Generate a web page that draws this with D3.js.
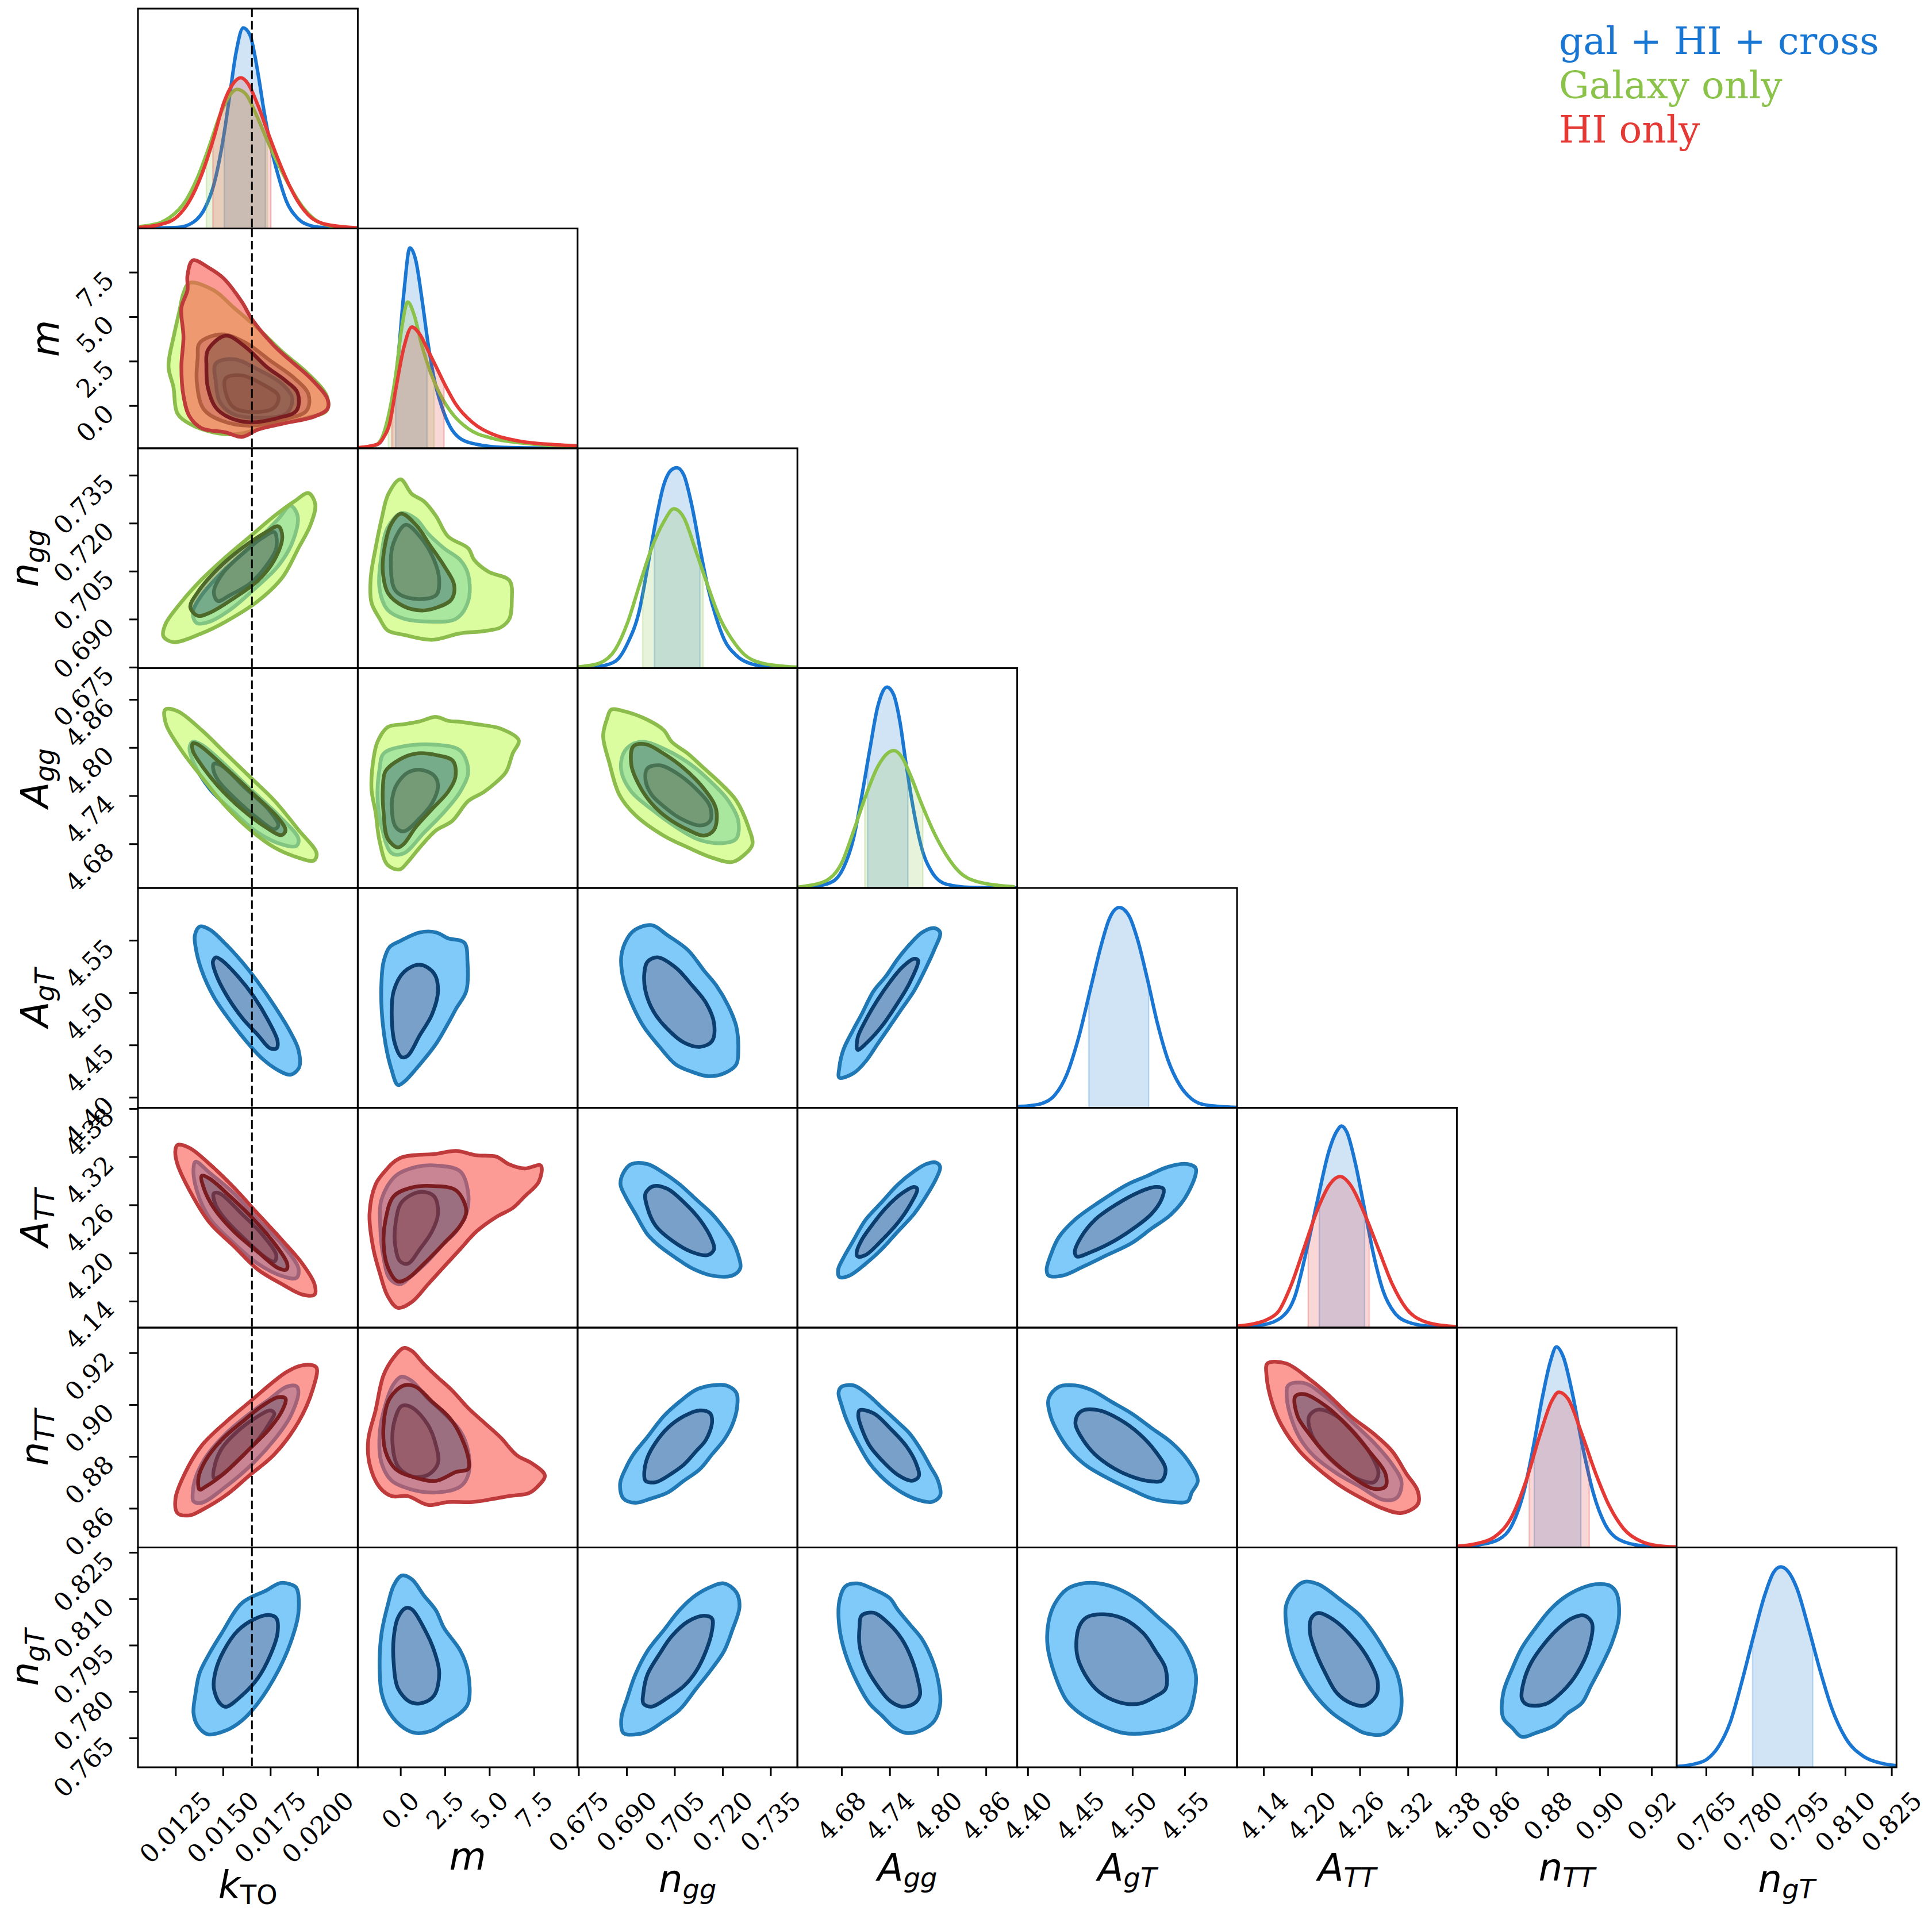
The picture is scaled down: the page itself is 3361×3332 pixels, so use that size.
<!DOCTYPE html>
<html><head><meta charset="utf-8">
<script src="https://cdn.jsdelivr.net/npm/d3@7"></script>
<style>html,body{margin:0;padding:0;background:#fff;}svg{display:block;}</style>
</head><body>
<svg id="chart" width="3361" height="3332"></svg>
<script>
// ================= DATA =================
const lim_k = [0.01052, 0.02211];
const lim_m = [-2.40, 9.96];
const lim_ngg = [0.6747, 0.7434];
const lim_Agg = [4.625, 4.899];
const lim_AgT = [4.390, 4.600];
const lim_ATT = [4.107, 4.381];
const lim_nTT = [0.8449, 0.9297];
const lim_ngT = [0.7555, 0.8266];

const ticks_k = [0.0125, 0.0150, 0.0175, 0.0200];
const ticks_m = [0.0, 2.5, 5.0, 7.5];
const ticks_ngg = [0.675, 0.690, 0.705, 0.720, 0.735];
const ticks_Agg = [4.68, 4.74, 4.80, 4.86];
const ticks_AgT = [4.40, 4.45, 4.50, 4.55];
const ticks_ATT = [4.14, 4.20, 4.26, 4.32, 4.38];
const ticks_nTT = [0.86, 0.88, 0.90, 0.92];
const ticks_ngT = [0.765, 0.780, 0.795, 0.810, 0.825];

const truth_k = 0.01653;

const legendLabels = ["gal + HI + cross", "Galaxy only", "HI only"];

// 1D marginals: [value, relative density]
const k_1d_blue = [[.01052,.001],[.01260,.005],[.01345,.032],[.01409,.109],[.01452,.219],[.01505,.468],[.01537,.674],[.01569,.879],[.01607,1.004],[.01643,.967],[.01685,.776],[.01717,.585],[.01749,.424],[.01792,.263],[.01834,.138],[.01888,.057],[.01941,.021],[.02026,.005],[.02211,.001]];
const k_1d_green = [[.01052,.008],[.01112,.016],[.01175,.031],[.01218,.054],[.01303,.138],[.01366,.255],[.01430,.417],[.01483,.564],[.01526,.652],[.01575,.696],[.01622,.671],[.01675,.571],[.01728,.453],[.01792,.321],[.01856,.204],[.01919,.109],[.01983,.046],[.02068,.013],[.02211,.002]];
const k_1d_red = [[.01052,.004],[.01175,.021],[.01260,.060],[.01324,.138],[.01388,.270],[.01452,.454],[.01505,.630],[.01547,.715],[.01594,.754],[.01632,.725],[.01685,.615],[.01739,.476],[.01792,.343],[.01845,.226],[.01898,.131],[.01962,.057],[.02026,.025],[.02132,.009],[.02211,.003]];
const m_1d_blue = [[-2.40,.0],[-1.63,.010],[-1.17,.027],[-0.83,.086],[-0.49,.218],[-0.15,.438],[0.19,.776],[0.53,1.003],[0.87,.937],[1.21,.746],[1.55,.526],[1.89,.350],[2.34,.204],[2.79,.108],[3.36,.049],[4.27,.020],[5.85,.004],[9.96,.0]];
const m_1d_green = [[-2.40,.002],[-1.40,.016],[-1.06,.049],[-0.72,.145],[-0.27,.365],[0.07,.600],[0.41,.732],[0.75,.673],[1.21,.512],[1.66,.387],[2.23,.270],[2.91,.174],[3.81,.098],[5.17,.050],[6.99,.025],[9.96,.008]];
const m_1d_red = [[-2.40,.003],[-1.29,.020],[-0.95,.054],[-0.61,.123],[-0.27,.292],[0.19,.504],[0.64,.607],[1.09,.570],[1.55,.490],[2.00,.409],[2.57,.306],[3.13,.218],[4.04,.130],[5.17,.071],[6.76,.035],[8.35,.020],[9.96,.012]];
const ngg_1d_blue = [[.6747,.002],[.68143,.009],[.68648,.034],[.69026,.122],[.69404,.291],[.69656,.504],[.69908,.731],[.70160,.915],[.70412,.993],[.70576,1.003],[.70791,.966],[.71043,.812],[.71295,.599],[.71547,.401],[.71799,.254],[.72051,.144],[.72429,.064],[.72933,.020],[.73690,.004],[.7434,.001]];
const ngg_1d_green = [[.6747,.006],[.67639,.009],[.68143,.024],[.68648,.093],[.69026,.225],[.69404,.416],[.69782,.599],[.70160,.731],[.70475,.797],[.70791,.753],[.71169,.585],[.71547,.409],[.71925,.247],[.72303,.142],[.72681,.068],[.73185,.027],[.73941,.009],[.7434,.005]];
const Agg_1d_blue = [[4.625,.001],[4.6496,.009],[4.6698,.034],[4.6823,.100],[4.6949,.247],[4.7049,.452],[4.7150,.687],[4.7251,.907],[4.7366,1.005],[4.7451,.966],[4.7527,.834],[4.7602,.628],[4.7703,.379],[4.7803,.195],[4.7929,.078],[4.8105,.019],[4.8406,.003],[4.899,.0]];
const Agg_1d_green = [[4.625,.004],[4.6346,.009],[4.6597,.034],[4.6798,.122],[4.6949,.283],[4.7100,.459],[4.7250,.606],[4.7376,.675],[4.7452,.687],[4.7552,.655],[4.7653,.570],[4.7803,.416],[4.7954,.276],[4.8105,.166],[4.8256,.085],[4.8507,.030],[4.8959,.006]];
const AgT_1d_blue = [[4.390,.006],[4.4027,.011],[4.4142,.023],[4.4258,.063],[4.4373,.166],[4.4489,.356],[4.4605,.606],[4.4701,.811],[4.4778,.943],[4.4874,1.002],[4.4971,.958],[4.5048,.845],[4.5144,.643],[4.5240,.422],[4.5336,.246],[4.5452,.114],[4.5567,.044],[4.5702,.014],[4.600,.002]];
const ATT_1d_blue = [[4.107,.004],[4.1392,.014],[4.1623,.051],[4.1796,.162],[4.1940,.393],[4.2084,.657],[4.2211,.877],[4.2314,.983],[4.2372,1.009],[4.2441,.976],[4.2545,.822],[4.2660,.591],[4.2775,.360],[4.2891,.184],[4.3035,.074],[4.3236,.023],[4.3524,.005],[4.381,.001]];
const ATT_1d_red = [[4.107,.008],[4.1277,.019],[4.1450,.041],[4.1594,.085],[4.1738,.206],[4.1911,.404],[4.2084,.602],[4.2228,.718],[4.2355,.756],[4.2487,.712],[4.2660,.569],[4.2833,.393],[4.3006,.217],[4.3179,.096],[4.3409,.030],[4.3697,.008],[4.381,.005]];
const nTT_1d_blue = [[.8449,.003],[.85388,.014],[.86101,.040],[.86637,.117],[.87082,.282],[.87439,.502],[.87796,.755],[.88099,.931],[.88331,1.004],[.88599,.953],[.88955,.766],[.89312,.524],[.89758,.271],[.90204,.117],[.90739,.040],[.91631,.009],[.9297,.001]];
const nTT_1d_red = [[.8449,.006],[.85209,.018],[.85923,.051],[.86637,.161],[.87171,.337],[.87706,.568],[.88152,.733],[.88420,.777],[.88777,.744],[.89312,.568],[.89847,.370],[.90382,.205],[.90917,.095],[.91631,.029],[.92523,.005],[.9297,.003]];
const ngT_1d_blue = [[.7555,.004],[.76079,.015],[.76527,.040],[.76901,.103],[.77275,.222],[.77648,.422],[.78022,.647],[.78396,.860],[.78695,.978],[.78919,1.003],[.79143,.982],[.79442,.894],[.79816,.697],[.80190,.484],[.80563,.297],[.81012,.147],[.81610,.053],[.82208,.019],[.8266,.008]];

// 68% intervals
const k_band_blue = [.01507,.01724], k_band_green = [.01413,.01734], k_band_red = [.01447,.01753];
const m_band_blue = [-0.27,1.50], m_band_green = [-0.68,1.89], m_band_red = [-0.49,2.45];
const ngg_band_blue = [.69870,.71295], ngg_band_green = [.69505,.71396];
const Agg_band_blue = [4.7125,4.7627], Agg_band_green = [4.7090,4.7813];
const AgT_band_blue = [4.4585,4.5155];
const ATT_band_blue = [4.2095,4.2660], ATT_band_red = [4.1957,4.2718];
const nTT_band_blue = [.87475,.89276], nTT_band_red = [.87279,.89598];
const ngT_band_blue = [.78007,.79951];

// 2D contours (95% and 68%), [x, y] in parameter units
const k_m_blue95 = [[.01462,2.36],[.01558,2.61],[.01685,2.03],[.01813,1.21],[.01866,0.38],[.01834,-0.44],[.01685,-0.69],[.01547,-0.44],[.01483,0.22],[.01462,1.37]];
const k_m_blue68 = [[.01515,1.54],[.01600,1.70],[.01707,1.21],[.01792,0.55],[.01771,-0.11],[.01664,-0.36],[.01558,-0.11],[.01515,0.71]];
const k_m_green95 = [[.01324,6.90],[.01452,6.48],[.01558,5.50],[.01685,4.34],[.01813,3.02],[.01941,1.87],[.02047,0.55],[.02047,-0.28],[.01941,-0.69],[.01728,-1.18],[.01579,-1.60],[.01452,-1.51],[.01324,-1.02],[.01260,-0.44],[.01239,1.04],[.01213,2.20],[.01243,4.01],[.01271,5.33],[.01292,6.32]];
const k_m_green68 = [[.01377,3.52],[.01494,4.01],[.01622,3.52],[.01749,2.53],[.01877,1.54],[.01951,0.63],[.01941,-0.28],[.01813,-0.80],[.01643,-1.13],[.01494,-0.85],[.01398,-0.19],[.01362,1.37],[.01367,2.69]];
const k_m_red95 = [[.01341,8.17],[.01430,7.72],[.01505,7.14],[.01600,5.83],[.01654,4.84],[.01771,3.35],[.01856,2.53],[.01962,1.54],[.02051,0.38],[.02051,-0.19],[.01983,-0.61],[.01813,-1.02],[.01685,-1.35],[.01600,-1.76],[.01515,-1.51],[.01388,-1.27],[.01324,-0.61],[.01292,0.55],[.01281,2.20],[.01292,3.85],[.01281,5.50],[.01313,6.49],[.01313,7.31]];
const k_m_red68 = [[.01420,3.10],[.01515,3.93],[.01622,3.27],[.01728,2.20],[.01834,1.37],[.01894,0.71],[.01888,-0.28],[.01792,-0.69],[.01643,-0.94],[.01537,-0.69],[.01462,-0.11],[.01420,1.04],[.01413,2.20]];

const k_ngg_blue95 = [[.01856,.72545],[.01894,.72224],[.01866,.71399],[.01792,.70666],[.01664,.69932],[.01537,.69291],[.01430,.68924],[.01362,.68878],[.01341,.69199],[.01388,.69749],[.01515,.70574],[.01664,.71353],[.01792,.72133]];
const k_ngg_blue68 = [[.01771,.7172],[.01781,.71216],[.01728,.70666],[.01643,.70116],[.01537,.69749],[.01473,.69566],[.01452,.69841],[.01494,.70391],[.01600,.71032],[.01707,.71537]];
const k_ngg_green95 = [[.01951,.72939],[.01987,.72591],[.01962,.71949],[.01898,.71216],[.01813,.70299],[.01685,.69566],[.01515,.68924],[.01388,.68557],[.01239,.68282],[.01186,.68465],[.01196,.68832],[.01260,.69382],[.01367,.70116],[.01515,.70941],[.01643,.71583],[.01771,.72224],[.01877,.72683]];
const k_ngg_green68 = [[.01792,.71903],[.01813,.71583],[.01771,.70849],[.01685,.70207],[.01558,.69657],[.01430,.69199],[.01367,.69107],[.01328,.69382],[.01367,.69841],[.01473,.70574],[.01600,.71216],[.01728,.71720]];

const m_ngg_blue95 = [[0.07,.72316],[0.87,.72133],[1.55,.71674],[2.45,.71216],[3.36,.70849],[3.81,.70391],[3.81,.69566],[3.13,.69016],[1.55,.68924],[0.19,.69016],[-0.72,.69291],[-1.17,.69932],[-1.06,.71032],[-0.72,.71858]];
const m_ngg_blue68 = [[0.30,.7195],[1.09,.71583],[1.89,.70849],[2.18,.70207],[2.00,.69749],[0.75,.69639],[-0.27,.69887],[-0.54,.70666],[-0.38,.71399]];
const m_ngg_green95 = [[0.00,.7337],[0.64,.72912],[1.32,.72683],[2.00,.72224],[2.68,.71583],[3.81,.71216],[4.15,.70849],[4.95,.70482],[6.13,.70207],[6.26,.69566],[6.13,.69016],[5.63,.68741],[4.72,.68630],[3.36,.68557],[1.77,.68355],[0.19,.68511],[-0.72,.6865],[-1.17,.69016],[-1.63,.69520],[-1.67,.70299],[-1.40,.71216],[-1.06,.72133],[-0.68,.72912]];
const m_ngg_green68 = [[0.03,.72298],[0.87,.7195],[1.66,.71308],[2.45,.70666],[3.02,.70070],[2.86,.69612],[2.00,.69355],[1.21,.69272],[0.19,.69401],[-0.68,.69795],[-0.99,.70482],[-0.90,.71216],[-0.54,.7195]];

const k_Agg_blue95 = [[.01341,4.8071],[.01388,4.8035],[.01515,4.7779],[.01643,4.7486],[.01792,4.7157],[.01898,4.6865],[.01888,4.6774],[.01813,4.6792],[.01685,4.6938],[.01558,4.7194],[.01430,4.7486],[.01345,4.7815],[.01324,4.7998]];
const k_Agg_blue68 = [[.01452,4.7797],[.01490,4.7779],[.01622,4.7486],[.01739,4.7231],[.01792,4.7029],[.01771,4.6982],[.01685,4.7114],[.01558,4.7377],[.01473,4.7596],[.01448,4.7742]];
const k_Agg_green95 = [[.01196,4.8473],[.01260,4.8455],[.01388,4.8218],[.01515,4.7925],[.01643,4.7633],[.01771,4.7340],[.01898,4.6975],[.01994,4.6682],[.01979,4.6591],[.01898,4.6627],[.01771,4.6755],[.01643,4.6975],[.01515,4.7267],[.01388,4.7633],[.01282,4.7962],[.01200,4.8291]];
const k_Agg_green68 = [[.01341,4.8053],[.01371,4.8035],[.01515,4.7742],[.01664,4.7413],[.01792,4.7121],[.01830,4.6967],[.01809,4.6909],[.01728,4.7004],[.01600,4.7231],[.01473,4.7523],[.01377,4.7815],[.01341,4.7962]];

const m_Agg_blue95 = [[-0.95,4.7925],[0.19,4.8016],[2.00,4.8035],[3.36,4.7962],[3.81,4.7706],[3.36,4.7450],[2.45,4.7194],[1.32,4.6938],[0.19,4.6682],[-0.49,4.6682],[-1.06,4.7011],[-1.29,4.7377],[-1.17,4.7742]];
const m_Agg_blue68 = [[-0.15,4.7560],[0.41,4.7688],[1.09,4.7724],[1.89,4.7651],[2.11,4.7523],[1.77,4.7304],[1.09,4.7121],[0.19,4.6956],[-0.27,4.7011],[-0.49,4.7267],[-0.38,4.7450]];
const m_Agg_green95 = [[-0.72,4.8254],[0.19,4.8291],[1.09,4.8327],[2.00,4.8382],[2.68,4.8334],[3.36,4.8320],[4.27,4.8291],[5.63,4.8236],[6.65,4.8090],[6.31,4.7925],[6.04,4.7742],[5.85,4.7669],[4.72,4.7450],[3.81,4.7333],[2.91,4.7084],[2.00,4.6967],[1.09,4.6755],[0.41,4.6573],[-0.04,4.6481],[-0.72,4.6536],[-1.17,4.6828],[-1.40,4.7194],[-1.63,4.7486],[-1.52,4.7852],[-1.29,4.8071]];
const m_Agg_green68 = [[-0.84,4.7706],[-0.04,4.7852],[0.87,4.7925],[2.00,4.7907],[2.95,4.7834],[3.09,4.7633],[2.68,4.7450],[1.77,4.7231],[0.87,4.7011],[0.19,4.6799],[-0.15,4.6755],[-0.72,4.6865],[-0.95,4.7194],[-0.99,4.7486]];

const ngg_Agg_blue95 = [[.69152,4.8035],[.69530,4.8071],[.70286,4.7962],[.71043,4.7779],[.71673,4.7559],[.72177,4.7340],[.72493,4.7084],[.72429,4.6865],[.72051,4.6810],[.71295,4.6847],[.70539,4.7011],[.69782,4.7231],[.69152,4.7450],[.68837,4.7706],[.68900,4.7925]];
const ngg_Agg_blue68 = [[.69656,4.7742],[.70034,4.7779],[.70539,4.7688],[.71169,4.7486],[.71610,4.7267],[.71610,4.7084],[.71295,4.7029],[.70665,4.7121],[.70160,4.7267],[.69782,4.7413],[.69593,4.7596]];
const ngg_Agg_green95 = [[.68522,4.8473],[.68900,4.8455],[.69656,4.8345],[.70160,4.8218],[.70412,4.8071],[.70917,4.7925],[.71421,4.7742],[.71925,4.7559],[.72429,4.7340],[.72808,4.7011],[.72934,4.6792],[.72682,4.6664],[.72303,4.6573],[.71673,4.6627],[.70917,4.6755],[.70160,4.6902],[.69278,4.7157],[.68774,4.7413],[.68459,4.7815],[.68269,4.8144],[.68395,4.8364]];
const ngg_Agg_green68 = [[.69215,4.8016],[.69593,4.8042],[.70160,4.7925],[.70791,4.7742],[.71421,4.7486],[.71799,4.7231],[.71736,4.6975],[.71421,4.6902],[.70917,4.6975],[.70286,4.7121],[.69782,4.7304],[.69404,4.7523],[.69152,4.7779]];

const k_AgT_blue95 = [[.01377,4.5631],[.01430,4.5603],[.01515,4.5463],[.01600,4.5295],[.01685,4.5099],[.01771,4.4875],[.01856,4.4622],[.01898,4.4454],[.01902,4.4286],[.01856,4.4216],[.01792,4.4258],[.01707,4.4370],[.01622,4.4538],[.01537,4.4734],[.01452,4.4959],[.01388,4.5211],[.01356,4.5435],[.01352,4.5547]];
const k_AgT_blue68 = [[.01462,4.5337],[.01494,4.5309],[.01579,4.5155],[.01664,4.4959],[.01739,4.4734],[.01788,4.4538],[.01783,4.4468],[.01749,4.4468],[.01685,4.4594],[.01600,4.4762],[.01515,4.4987],[.01462,4.5183],[.01447,4.5295]];
const m_AgT_blue95 = [[-0.61,4.5435],[-0.04,4.5491],[1.09,4.5575],[2.00,4.5575],[2.68,4.5519],[3.59,4.5477],[3.77,4.5295],[3.70,4.5015],[3.13,4.4847],[2.68,4.4706],[2.00,4.4510],[1.09,4.4314],[0.19,4.4146],[-0.15,4.4118],[-0.49,4.4258],[-0.84,4.4510],[-1.06,4.4847],[-1.06,4.5127],[-0.95,4.5295]];
const m_AgT_blue68 = [[0.19,4.5197],[1.09,4.5267],[1.89,4.5183],[2.11,4.5015],[1.77,4.4791],[1.09,4.4594],[0.41,4.4398],[0.07,4.4384],[-0.31,4.4510],[-0.49,4.4791],[-0.38,4.5015]];
const ngg_AgT_blue95 = [[.69026,4.5519],[.69278,4.5603],[.69782,4.5645],[.70286,4.5547],[.70917,4.5407],[.71421,4.5211],[.71799,4.5071],[.72177,4.4875],[.72429,4.4678],[.72492,4.4454],[.72429,4.4314],[.72051,4.4230],[.71547,4.4202],[.71043,4.4244],[.70539,4.4314],[.70034,4.4482],[.69530,4.4678],[.69152,4.4903],[.68900,4.5127],[.68837,4.5351]];
const ngg_AgT_blue68 = [[.69656,4.5295],[.69971,4.5337],[.70539,4.5239],[.71043,4.5071],[.71484,4.4903],[.71736,4.4706],[.71673,4.4538],[.71295,4.4482],[.70791,4.4524],[.70286,4.4650],[.69845,4.4819],[.69593,4.5015],[.69555,4.5183]];
const Agg_AgT_blue95 = [[4.6773,4.4188],[4.6949,4.4230],[4.7100,4.4342],[4.7250,4.4510],[4.7401,4.4678],[4.7552,4.4847],[4.7703,4.5015],[4.7854,4.5239],[4.7954,4.5407],[4.8029,4.5575],[4.7954,4.5617],[4.7803,4.5575],[4.7653,4.5463],[4.7502,4.5323],[4.7351,4.5155],[4.7200,4.5015],[4.7049,4.4791],[4.6949,4.4650],[4.6823,4.4454],[4.6773,4.4286]];
const Agg_AgT_blue68 = [[4.7000,4.4454],[4.7100,4.4510],[4.7301,4.4678],[4.7502,4.4903],[4.7653,4.5099],[4.7753,4.5309],[4.7703,4.5323],[4.7552,4.5239],[4.7401,4.5099],[4.7250,4.4931],[4.7100,4.4734],[4.7000,4.4566]];

const k_ATT_blue95 = [[.01356,4.3138],[.01430,4.2999],[.01558,4.2743],[.01685,4.2414],[.01813,4.2103],[.01898,4.1811],[.01888,4.1690],[.01813,4.1712],[.01685,4.1866],[.01558,4.2122],[.01430,4.2432],[.01362,4.2780],[.01345,4.3054]];
const k_ATT_blue68 = [[.01452,4.2743],[.01483,4.2743],[.01600,4.2487],[.01707,4.2231],[.01781,4.1975],[.01771,4.1895],[.01728,4.1939],[.01622,4.2158],[.01515,4.2414],[.01462,4.2597]];
const k_ATT_red95 = [[.01260,4.3346],[.01324,4.3310],[.01430,4.3108],[.01558,4.2816],[.01685,4.2487],[.01813,4.2158],[.01919,4.1866],[.01983,4.1610],[.01983,4.1482],[.01919,4.1482],[.01813,4.1610],[.01685,4.1793],[.01558,4.2085],[.01430,4.2377],[.01324,4.2780],[.01260,4.3108],[.01249,4.3273]];
const k_ATT_red68 = [[.01388,4.2962],[.01430,4.2926],[.01537,4.2707],[.01664,4.2414],[.01771,4.2121],[.01839,4.1866],[.01834,4.1793],[.01792,4.1811],[.01685,4.2012],[.01558,4.2268],[.01452,4.2560],[.01398,4.2816]];
const m_ATT_blue95 = [[-1.06,4.2670],[-0.27,4.2962],[0.87,4.3072],[2.00,4.3090],[3.36,4.3017],[3.81,4.2743],[3.70,4.2487],[3.13,4.2268],[2.45,4.2121],[1.55,4.1902],[0.64,4.1719],[-0.04,4.1610],[-0.61,4.1683],[-0.95,4.1939],[-1.13,4.2304]];
const m_ATT_blue68 = [[-0.27,4.2377],[0.07,4.2633],[1.09,4.2761],[1.89,4.2707],[2.11,4.2487],[1.77,4.2268],[1.09,4.2048],[0.41,4.1866],[-0.04,4.1902],[-0.31,4.2121]];
const m_ATT_red95 = [[-1.74,4.2487],[-1.40,4.2853],[-0.95,4.2999],[-0.04,4.3182],[2.00,4.3236],[3.13,4.3273],[4.27,4.3218],[5.40,4.3200],[6.08,4.3108],[6.99,4.3054],[7.89,4.3090],[7.78,4.2889],[6.99,4.2707],[6.31,4.2560],[5.40,4.2451],[4.27,4.2268],[3.36,4.2048],[2.45,4.1829],[1.55,4.1610],[0.64,4.1390],[-0.15,4.1317],[-0.72,4.1463],[-1.17,4.1756],[-1.52,4.2048]];
const m_ATT_red68 = [[-0.84,4.2414],[-0.38,4.2707],[0.64,4.2816],[1.89,4.2834],[3.13,4.2780],[3.70,4.2524],[3.36,4.2341],[2.45,4.2121],[1.32,4.1866],[0.41,4.1683],[-0.15,4.1646],[-0.72,4.1829],[-0.95,4.2121]];
const ngg_ATT_blue95 = [[.68900,4.2999],[.69152,4.3108],[.69656,4.3108],[.70160,4.2999],[.70665,4.2853],[.71169,4.2670],[.71673,4.2487],[.72051,4.2304],[.72303,4.2158],[.72492,4.1975],[.72555,4.1811],[.72303,4.1719],[.71673,4.1719],[.71043,4.1811],[.70539,4.1939],[.70034,4.2085],[.69656,4.2231],[.69278,4.2487],[.68963,4.2707],[.68811,4.2853]];
const ngg_ATT_blue68 = [[.69593,4.2743],[.69845,4.2834],[.70286,4.2798],[.70791,4.2633],[.71295,4.2414],[.71673,4.2158],[.71736,4.2048],[.71547,4.1975],[.71043,4.2012],[.70412,4.2158],[.69908,4.2341],[.69656,4.2560]];
const Agg_ATT_blue95 = [[4.6773,4.1701],[4.6899,4.1719],[4.7100,4.1866],[4.7301,4.2048],[4.7502,4.2268],[4.7703,4.2487],[4.7854,4.2707],[4.7979,4.2926],[4.8029,4.3072],[4.7979,4.3127],[4.7854,4.3108],[4.7703,4.3017],[4.7502,4.2853],[4.7301,4.2633],[4.7100,4.2414],[4.6949,4.2158],[4.6823,4.1939],[4.6758,4.1793]];
const Agg_ATT_blue68 = [[4.7000,4.1957],[4.7100,4.1975],[4.7301,4.2158],[4.7502,4.2377],[4.7653,4.2597],[4.7743,4.2798],[4.7703,4.2823],[4.7552,4.2743],[4.7351,4.2560],[4.7175,4.2341],[4.7049,4.2158],[4.6989,4.2012]];
const AgT_ATT_blue95 = [[4.4200,4.1719],[4.4335,4.1719],[4.4528,4.1829],[4.4759,4.1975],[4.4990,4.2121],[4.5182,4.2304],[4.5375,4.2487],[4.5529,4.2743],[4.5606,4.3054],[4.5529,4.3108],[4.5336,4.3072],[4.5144,4.2962],[4.4951,4.2853],[4.4681,4.2633],[4.4450,4.2414],[4.4296,4.2194],[4.4220,4.1975],[4.4181,4.1793]];
const AgT_ATT_blue68 = [[4.4470,4.1957],[4.4605,4.2012],[4.4836,4.2158],[4.5028,4.2322],[4.5182,4.2487],[4.5279,4.2670],[4.5298,4.2798],[4.5221,4.2823],[4.5067,4.2761],[4.4836,4.2597],[4.4643,4.2414],[4.4508,4.2194],[4.4450,4.2012]];

const k_nTT_blue95 = [[.01345,.86271],[.01388,.86214],[.01515,.86837],[.01643,.87629],[.01771,.88647],[.01856,.89552],[.01898,.90458],[.01888,.90707],[.01834,.90684],[.01749,.90231],[.01643,.89666],[.01515,.88873],[.01409,.87968],[.01356,.87176],[.01341,.86610]];
const k_nTT_blue68 = [[.01452,.87176],[.01483,.87233],[.01579,.87855],[.01685,.88647],[.01749,.89326],[.01771,.89666],[.01749,.89779],[.01685,.89552],[.01579,.88986],[.01494,.88308],[.01456,.87629]];
const k_nTT_red95 = [[.01260,.85818],[.01324,.85727],[.01388,.85931],[.01515,.86497],[.01643,.87289],[.01771,.88081],[.01898,.89326],[.01973,.90571],[.01994,.91419],[.01962,.91533],[.01898,.91476],[.01834,.91250],[.01771,.90910],[.01643,.90118],[.01515,.89326],[.01388,.88421],[.01303,.87402],[.01250,.86384]];
const k_nTT_red68 = [[.01377,.86723],[.01409,.86837],[.01515,.87402],[.01643,.88308],[.01749,.89100],[.01813,.89779],[.01830,.90231],[.01792,.90288],[.01707,.89949],[.01600,.89326],[.01494,.88647],[.01409,.87855],[.01371,.87176]];
const m_nTT_blue95 = [[0.07,.91080],[0.64,.90910],[1.55,.90231],[2.45,.89665],[3.36,.88987],[3.81,.88194],[3.81,.87289],[3.36,.86836],[2.00,.86610],[0.64,.86723],[-0.49,.87063],[-1.06,.87742],[-1.17,.88873],[-0.84,.90005],[-0.38,.90797]];
const m_nTT_blue68 = [[0.07,.89948],[0.64,.89892],[1.55,.89213],[2.00,.88421],[2.11,.87742],[1.55,.87289],[0.64,.87232],[-0.15,.87629],[-0.45,.88534],[-0.31,.89439]];
const m_nTT_red95 = [[0.19,.92185],[0.64,.92072],[1.32,.91563],[2.00,.91110],[2.91,.90544],[3.81,.89865],[4.72,.89300],[5.63,.88734],[6.53,.88055],[7.44,.87715],[8.12,.87263],[7.67,.86810],[7.22,.86584],[6.08,.86470],[5.17,.86357],[4.04,.86244],[2.68,.86244],[1.55,.86131],[0.41,.86470],[-0.49,.86470],[-1.17,.86810],[-1.74,.87715],[-1.81,.88647],[-1.40,.89779],[-0.95,.91136],[-0.38,.91816]];
const m_nTT_red68 = [[0.19,.90741],[0.87,.90684],[1.77,.90118],[2.68,.89552],[3.25,.88987],[3.81,.87968],[3.81,.87516],[3.13,.87402],[2.00,.87063],[0.87,.87176],[-0.27,.87516],[-0.84,.88194],[-0.95,.89213],[-0.61,.90231]];
const ngg_nTT_blue95 = [[.68900,.86384],[.69278,.86214],[.69782,.86384],[.70286,.86610],[.70791,.87063],[.71295,.87515],[.71673,.88081],[.72051,.88647],[.72303,.89213],[.72455,.89892],[.72429,.90457],[.72114,.90740],[.71673,.90740],[.71169,.90571],[.70665,.90118],[.70160,.89552],[.69656,.88760],[.69215,.88081],[.68963,.87515],[.68799,.86950]];
const ngg_nTT_blue68 = [[.69593,.87063],[.69908,.87006],[.70412,.87346],[.70791,.87685],[.71169,.88194],[.71484,.88647],[.71673,.89326],[.71610,.89666],[.71295,.89779],[.70791,.89552],[.70286,.89100],[.69908,.88534],[.69656,.87968],[.69555,.87402]];
const Agg_nTT_blue95 = [[4.6798,.90684],[4.6949,.90741],[4.7100,.90458],[4.7301,.89892],[4.7502,.89326],[4.7653,.88873],[4.7803,.88194],[4.7904,.87629],[4.8004,.87063],[4.8030,.86497],[4.7929,.86248],[4.7753,.86327],[4.7552,.86610],[4.7351,.87063],[4.7150,.87742],[4.7000,.88534],[4.6874,.89326],[4.6798,.90005],[4.6763,.90458]];
const Agg_nTT_blue68 = [[4.7024,.89779],[4.7200,.89665],[4.7401,.89100],[4.7602,.88421],[4.7728,.87742],[4.7763,.87233],[4.7678,.87063],[4.7502,.87289],[4.7301,.87855],[4.7150,.88421],[4.7049,.89100],[4.7009,.89553]];
const AgT_nTT_blue95 = [[4.4200,.90231],[4.4296,.90684],[4.4451,.90741],[4.4605,.90571],[4.4797,.90118],[4.4990,.89666],[4.5182,.89100],[4.5375,.88534],[4.5529,.87855],[4.5625,.87063],[4.5567,.86610],[4.5529,.86271],[4.5375,.86248],[4.5182,.86384],[4.4990,.86723],[4.4759,.87176],[4.4566,.87629],[4.4412,.88194],[4.4296,.88873],[4.4219,.89552]];
const AgT_nTT_blue68 = [[4.4470,.89552],[4.4528,.89779],[4.4682,.89779],[4.4874,.89439],[4.5067,.88873],[4.5221,.88194],[4.5317,.87515],[4.5279,.87063],[4.5182,.87040],[4.5028,.87176],[4.4836,.87515],[4.4643,.88081],[4.4528,.88647],[4.4458,.89213]];
const ATT_nTT_blue95 = [[4.1709,.90742],[4.1911,.90826],[4.2199,.90232],[4.2487,.89383],[4.2775,.88535],[4.3006,.87686],[4.3121,.87007],[4.3063,.86413],[4.2891,.86328],[4.2603,.86837],[4.2314,.87346],[4.2026,.88025],[4.1853,.88704],[4.1738,.89553],[4.1692,.90232]];
const ATT_nTT_blue68 = [[4.1969,.89553],[4.2084,.89808],[4.2314,.89553],[4.2545,.88874],[4.2747,.88025],[4.2833,.87346],[4.2775,.87007],[4.2603,.87092],[4.2372,.87516],[4.2141,.88195],[4.1997,.88874]];
const ATT_nTT_red95 = [[4.1450,.91590],[4.1681,.91590],[4.1969,.90996],[4.2199,.90402],[4.2487,.89553],[4.2775,.88874],[4.3006,.88195],[4.3179,.87346],[4.3323,.86668],[4.3323,.86158],[4.3121,.85819],[4.2891,.85989],[4.2660,.86328],[4.2372,.86837],[4.2084,.87516],[4.1853,.88195],[4.1623,.89214],[4.1508,.90062],[4.1439,.91081]];
const ATT_nTT_red68 = [[4.1796,.90317],[4.1911,.90402],[4.2199,.89893],[4.2487,.89044],[4.2718,.88195],[4.2919,.87346],[4.2919,.86837],[4.2775,.86752],[4.2487,.87262],[4.2199,.88025],[4.1969,.88874],[4.1825,.89553]];

const k_ngT_blue95 = [[.01345,.77305],[.01366,.76900],[.01420,.76618],[.01515,.76739],[.01600,.77062],[.01685,.77628],[.01792,.78679],[.01856,.79569],[.01898,.80539],[.01888,.81348],[.01856,.81469],[.01802,.81509],[.01728,.81267],[.01600,.80862],[.01494,.79892],[.01430,.79245],[.01377,.78598],[.01356,.77951]];
const k_ngT_blue68 = [[.01452,.78113],[.01483,.77628],[.01515,.77507],[.01600,.77871],[.01685,.78437],[.01749,.79164],[.01788,.79892],[.01781,.80377],[.01739,.80474],[.01664,.80337],[.01579,.79973],[.01505,.79326],[.01462,.78679]];
const m_ngT_blue95 = [[0.07,.81752],[0.64,.81631],[1.32,.81105],[2.00,.80620],[2.45,.80054],[3.36,.79326],[3.81,.78598],[3.81,.77628],[3.36,.77305],[2.45,.76981],[1.77,.76739],[0.87,.76658],[0.19,.76820],[-0.61,.77305],[-1.06,.77951],[-1.17,.79003],[-1.06,.79892],[-0.72,.80782],[-0.38,.81428]];
const m_ngT_blue68 = [[0.30,.80701],[0.64,.80660],[1.32,.80054],[1.89,.79326],[2.18,.78598],[1.89,.77871],[1.21,.77628],[0.53,.77668],[-0.15,.78113],[-0.38,.78922],[-0.38,.79730],[-0.15,.80377]];
const ngg_ngT_blue95 = [[.68900,.76660],[.69278,.76612],[.69656,.76707],[.70160,.77039],[.70665,.77418],[.71169,.78082],[.71673,.78746],[.72051,.79315],[.72303,.79979],[.72530,.80738],[.72429,.81213],[.72051,.81497],[.71673,.81402],[.71169,.81118],[.70665,.80643],[.70160,.79979],[.69656,.79315],[.69278,.78557],[.69026,.77798],[.68837,.77134]];
const ngg_ngT_blue68 = [[.69530,.77608],[.69782,.77513],[.70286,.77798],[.70791,.78177],[.71169,.78651],[.71484,.79315],[.71673,.79979],[.71673,.80359],[.71421,.80453],[.70917,.80264],[.70412,.79789],[.70034,.79220],[.69656,.78557],[.69530,.77988]];
const Agg_ngT_blue95 = [[4.6848,.81402],[4.7000,.81497],[4.7200,.81307],[4.7401,.81023],[4.7502,.80643],[4.7653,.80169],[4.7803,.79695],[4.7929,.79031],[4.8004,.78367],[4.8030,.77608],[4.7954,.77039],[4.7803,.76755],[4.7602,.76660],[4.7451,.76850],[4.7301,.77229],[4.7150,.77608],[4.7000,.78272],[4.6848,.79221],[4.6773,.80074],[4.6773,.80928]];
const Agg_ngT_blue68 = [[4.7049,.80453],[4.7200,.80548],[4.7401,.80169],[4.7552,.79695],[4.7678,.79031],[4.7753,.78367],[4.7778,.77893],[4.7703,.77608],[4.7552,.77513],[4.7401,.77703],[4.7250,.78177],[4.7100,.78841],[4.7024,.79505],[4.7024,.80074]];
const AgT_ngT_blue95 = [[4.4258,.80833],[4.4373,.81307],[4.4527,.81497],[4.4682,.81497],[4.4874,.81307],[4.5067,.80928],[4.5259,.80359],[4.5413,.79884],[4.5529,.79315],[4.5606,.78556],[4.5587,.77798],[4.5529,.77229],[4.5375,.76849],[4.5144,.76660],[4.4913,.76660],[4.4682,.76944],[4.4489,.77324],[4.4373,.77703],[4.4258,.78556],[4.4189,.79505],[4.4200,.80264]];
const AgT_ngT_blue68 = [[4.4489,.80074],[4.4566,.80406],[4.4720,.80501],[4.4913,.80359],[4.5105,.79884],[4.5221,.79315],[4.5317,.78746],[4.5317,.78082],[4.5221,.77845],[4.5067,.77608],[4.4874,.77655],[4.4682,.77988],[4.4547,.78556],[4.4470,.79220]];
const ATT_ngT_blue95 = [[4.1681,.80782],[4.1796,.81348],[4.1911,.81550],[4.2084,.81469],[4.2372,.80943],[4.2603,.80458],[4.2775,.79892],[4.2948,.79164],[4.3063,.78598],[4.3121,.77790],[4.3092,.77143],[4.3006,.76819],[4.2891,.76617],[4.2660,.76658],[4.2487,.76900],[4.2257,.77305],[4.2026,.77951],[4.1853,.78679],[4.1738,.79407],[4.1681,.80216]];
const ATT_ngT_blue68 = [[4.1997,.80377],[4.2084,.80539],[4.2286,.80297],[4.2545,.79650],[4.2718,.79003],[4.2821,.78356],[4.2804,.77871],[4.2660,.77547],[4.2487,.77628],[4.2314,.77952],[4.2170,.78598],[4.2055,.79245],[4.1980,.79892]];
const nTT_ngT_blue95 = [[.86280,.77143],[.86637,.76819],[.86993,.76536],[.87528,.76658],[.88242,.76900],[.88777,.77305],[.89312,.77628],[.89669,.78194],[.90025,.78760],[.90471,.79569],[.90739,.80377],[.90650,.81186],[.90382,.81428],[.89847,.81469],[.89312,.81348],[.88599,.81024],[.88063,.80620],[.87528,.80054],[.86993,.79407],[.86637,.78760],[.86280,.77951]];
const nTT_ngT_blue68 = [[.86993,.77790],[.87171,.77588],[.87885,.77588],[.88598,.78032],[.89134,.78598],[.89580,.79407],[.89704,.80216],[.89401,.80458],[.88955,.80377],[.88420,.80054],[.87885,.79569],[.87350,.78922],[.87082,.78356]];

// ================= CONFIG (styling / assembly) =================
const W = 3361, H = 3332;
const X0 = 240, Y0 = 15, CW = 382.4, CH = 382.5;
const TICK_FONT = "DejaVu Serif", TICK_SIZE = 44;
const LABEL_SIZE = 66;

const styles = {
  blue:  {curve:"#1976d2", f95:"#80cafa", f68:"#78a0c8", fo:1.0, l95:"#1f77b4", l68:"#0b3d6e"},
  green: {curve:"#8bc34a", f95:"#c5fa61", f68:"#71983f", fo:0.6, l95:"#8cbd4c", l68:"#4d6a2a"},
  red:   {curve:"#e53935", f95:"#fa5750", f68:"#ad322f", fo:0.6, l95:"#bf3a3a", l68:"#7b1c20"}
};

const params = [
  {id:"k",   lim:lim_k,   ticks:ticks_k,   fmt:".4f", base:"k", sub:"TO", subItalic:false},
  {id:"m",   lim:lim_m,   ticks:ticks_m,   fmt:".1f", base:"m", sub:"",   subItalic:true},
  {id:"ngg", lim:lim_ngg, ticks:ticks_ngg, fmt:".3f", base:"n", sub:"gg", subItalic:true},
  {id:"Agg", lim:lim_Agg, ticks:ticks_Agg, fmt:".2f", base:"A", sub:"gg", subItalic:true},
  {id:"AgT", lim:lim_AgT, ticks:ticks_AgT, fmt:".2f", base:"A", sub:"gT", subItalic:true},
  {id:"ATT", lim:lim_ATT, ticks:ticks_ATT, fmt:".2f", base:"A", sub:"TT", subItalic:true},
  {id:"nTT", lim:lim_nTT, ticks:ticks_nTT, fmt:".2f", base:"n", sub:"TT", subItalic:true},
  {id:"ngT", lim:lim_ngT, ticks:ticks_ngT, fmt:".3f", base:"n", sub:"gT", subItalic:true}
];

const marginals = {
  k:   [["blue",k_1d_blue,k_band_blue],["green",k_1d_green,k_band_green],["red",k_1d_red,k_band_red]],
  m:   [["blue",m_1d_blue,m_band_blue],["green",m_1d_green,m_band_green],["red",m_1d_red,m_band_red]],
  ngg: [["blue",ngg_1d_blue,ngg_band_blue],["green",ngg_1d_green,ngg_band_green]],
  Agg: [["blue",Agg_1d_blue,Agg_band_blue],["green",Agg_1d_green,Agg_band_green]],
  AgT: [["blue",AgT_1d_blue,AgT_band_blue]],
  ATT: [["blue",ATT_1d_blue,ATT_band_blue],["red",ATT_1d_red,ATT_band_red]],
  nTT: [["blue",nTT_1d_blue,nTT_band_blue],["red",nTT_1d_red,nTT_band_red]],
  ngT: [["blue",ngT_1d_blue,ngT_band_blue]]
};

const contours = [
  ["k","m",[["blue",k_m_blue95,k_m_blue68],["green",k_m_green95,k_m_green68],["red",k_m_red95,k_m_red68]]],
  ["k","ngg",[["blue",k_ngg_blue95,k_ngg_blue68],["green",k_ngg_green95,k_ngg_green68]]],
  ["m","ngg",[["blue",m_ngg_blue95,m_ngg_blue68],["green",m_ngg_green95,m_ngg_green68]]],
  ["k","Agg",[["blue",k_Agg_blue95,k_Agg_blue68],["green",k_Agg_green95,k_Agg_green68]]],
  ["m","Agg",[["blue",m_Agg_blue95,m_Agg_blue68],["green",m_Agg_green95,m_Agg_green68]]],
  ["ngg","Agg",[["blue",ngg_Agg_blue95,ngg_Agg_blue68],["green",ngg_Agg_green95,ngg_Agg_green68]]],
  ["k","AgT",[["blue",k_AgT_blue95,k_AgT_blue68]]],
  ["m","AgT",[["blue",m_AgT_blue95,m_AgT_blue68]]],
  ["ngg","AgT",[["blue",ngg_AgT_blue95,ngg_AgT_blue68]]],
  ["Agg","AgT",[["blue",Agg_AgT_blue95,Agg_AgT_blue68]]],
  ["k","ATT",[["blue",k_ATT_blue95,k_ATT_blue68],["red",k_ATT_red95,k_ATT_red68]]],
  ["m","ATT",[["blue",m_ATT_blue95,m_ATT_blue68],["red",m_ATT_red95,m_ATT_red68]]],
  ["ngg","ATT",[["blue",ngg_ATT_blue95,ngg_ATT_blue68]]],
  ["Agg","ATT",[["blue",Agg_ATT_blue95,Agg_ATT_blue68]]],
  ["AgT","ATT",[["blue",AgT_ATT_blue95,AgT_ATT_blue68]]],
  ["k","nTT",[["blue",k_nTT_blue95,k_nTT_blue68],["red",k_nTT_red95,k_nTT_red68]]],
  ["m","nTT",[["blue",m_nTT_blue95,m_nTT_blue68],["red",m_nTT_red95,m_nTT_red68]]],
  ["ngg","nTT",[["blue",ngg_nTT_blue95,ngg_nTT_blue68]]],
  ["Agg","nTT",[["blue",Agg_nTT_blue95,Agg_nTT_blue68]]],
  ["AgT","nTT",[["blue",AgT_nTT_blue95,AgT_nTT_blue68]]],
  ["ATT","nTT",[["blue",ATT_nTT_blue95,ATT_nTT_blue68],["red",ATT_nTT_red95,ATT_nTT_red68]]],
  ["k","ngT",[["blue",k_ngT_blue95,k_ngT_blue68]]],
  ["m","ngT",[["blue",m_ngT_blue95,m_ngT_blue68]]],
  ["ngg","ngT",[["blue",ngg_ngT_blue95,ngg_ngT_blue68]]],
  ["Agg","ngT",[["blue",Agg_ngT_blue95,Agg_ngT_blue68]]],
  ["AgT","ngT",[["blue",AgT_ngT_blue95,AgT_ngT_blue68]]],
  ["ATT","ngT",[["blue",ATT_ngT_blue95,ATT_ngT_blue68]]],
  ["nTT","ngT",[["blue",nTT_ngT_blue95,nTT_ngT_blue68]]]
];

// ================= DRAW =================
const svg = d3.select("#chart");
svg.append("rect").attr("width", W).attr("height", H).attr("fill", "#fff");
const defs = svg.append("defs");
const N = params.length;
const idx = {};
params.forEach((p, i) => {
  idx[p.id] = i;
  const L = X0 + i * CW, T = Y0 + i * CH;
  p.L = L; p.T = T;
  p.x = d3.scaleLinear().domain(p.lim).range([L, L + CW]);
  p.y = d3.scaleLinear().domain(p.lim).range([T + CH, T]);
});
const colL = c => X0 + c * CW;
const rowT = r => Y0 + r * CH;

let clipN = 0;
function panelClip(r, c) {
  const id = "pc" + (clipN++);
  defs.append("clipPath").attr("id", id).append("rect")
    .attr("x", colL(c)).attr("y", rowT(r)).attr("width", CW).attr("height", CH);
  return "url(#" + id + ")";
}

const contentLayer = svg.append("g");
const overlayLayer = svg.append("g");
const frameLayer = svg.append("g");

// --- 2D panels (filled bands like contourf: 95% ring + 68% core) ---
contours.forEach(([xid, yid, sets]) => {
  const c = idx[xid], r = idx[yid];
  const xs = params[c].x, ys = params[r].y;
  const g = contentLayer.append("g").attr("clip-path", panelClip(r, c));
  const line = d3.line().x(d => xs(d[0])).y(d => ys(d[1])).curve(d3.curveCatmullRomClosed.alpha(0.5));
  sets.forEach(([name, c95, c68]) => {
    const s = styles[name];
    g.append("path").attr("d", line(c95) + line(c68)).attr("fill-rule", "evenodd")
      .attr("fill", s.f95).attr("fill-opacity", s.fo).attr("stroke", "none");
    g.append("path").attr("d", line(c68)).attr("fill", s.f68).attr("fill-opacity", s.fo).attr("stroke", "none");
    g.append("path").attr("d", line(c95)).attr("fill", "none").attr("stroke", s.l95).attr("stroke-width", 6.5).attr("stroke-linejoin", "round");
    g.append("path").attr("d", line(c68)).attr("fill", "none").attr("stroke", s.l68).attr("stroke-width", 6.5).attr("stroke-linejoin", "round");
  });
});

// --- diagonal panels ---
params.forEach((p, i) => {
  const xs = p.x;
  const B = p.T + CH;
  const yd = d3.scaleLinear().domain([0, 1.1]).range([B, p.T]);
  const g = contentLayer.append("g").attr("clip-path", panelClip(i, i));
  const area = d3.area().x(d => xs(d[0])).y0(yd(0)).y1(d => yd(d[1])).curve(d3.curveMonotoneX);
  const ln = d3.line().x(d => xs(d[0])).y(d => yd(d[1])).curve(d3.curveMonotoneX);
  marginals[p.id].forEach(([name, pts, band]) => {
    const s = styles[name];
    const cid = "uc" + (clipN++);
    defs.append("clipPath").attr("id", cid).append("path").attr("d", area(pts));
    g.append("rect").attr("clip-path", "url(#" + cid + ")")
      .attr("x", xs(band[0])).attr("y", p.T - 10).attr("width", xs(band[1]) - xs(band[0])).attr("height", CH + 20)
      .attr("fill", s.curve).attr("fill-opacity", 0.2)
      .attr("stroke", s.curve).attr("stroke-opacity", 0.25).attr("stroke-width", 2.5);
    g.append("path").attr("d", ln(pts)).attr("fill", "none").attr("stroke", s.curve).attr("stroke-width", 6).attr("stroke-linejoin", "round");
  });
});

// --- truth line in k column ---
for (let r = 0; r < N; r++) {
  const xv = params[0].x(truth_k);
  overlayLayer.append("line").attr("x1", xv).attr("x2", xv).attr("y1", rowT(r)).attr("y2", rowT(r) + CH)
    .attr("stroke", "#000").attr("stroke-width", 3).attr("stroke-dasharray", "15,6.5");
}

// --- frames ---
for (let r = 0; r < N; r++) for (let c = 0; c <= r; c++) {
  frameLayer.append("rect").attr("x", colL(c)).attr("y", rowT(r)).attr("width", CW).attr("height", CH)
    .attr("fill", "none").attr("stroke", "#000").attr("stroke-width", 3);
}

// --- math-style label ---
function mathLabel(sel, p) {
  const t = sel.append("text").attr("font-family", "DejaVu Sans").attr("font-size", LABEL_SIZE).attr("fill", "#000");
  t.append("tspan").attr("font-style", "italic").text(p.base);
  if (p.sub) t.append("tspan").attr("font-style", p.subItalic ? "italic" : "normal")
    .attr("font-size", LABEL_SIZE * 0.7).attr("dy", 11).text(p.sub);
  return t;
}

function styleAxis(g) {
  g.select(".domain").remove();
  g.selectAll(".tick line").attr("stroke", "#000").attr("stroke-width", 3);
  g.selectAll(".tick text").attr("font-family", TICK_FONT).attr("font-size", TICK_SIZE).attr("fill", "#000");
  g.attr("font-family", null).attr("font-size", null);
}

// --- bottom axes ---
const axLayer = svg.append("g");
const gridBottom = rowT(N - 1) + CH;
params.forEach((p, c) => {
  const g = axLayer.append("g").attr("transform", `translate(0,${gridBottom})`);
  g.call(d3.axisBottom(p.x).tickValues(p.ticks).tickSize(15).tickFormat(d3.format(p.fmt)));
  styleAxis(g);
  g.selectAll(".tick text").each(function (d) {
    const el = d3.select(this);
    el.attr("x", null).attr("y", null).attr("dy", null).attr("text-anchor", "end").attr("transform", "rotate(-45)");
    const r0 = this.getBoundingClientRect();
    const dx = p.x(d) - (r0.left + r0.right) / 2;
    const dy = (gridBottom + 32) - r0.top;
    el.attr("transform", `translate(${dx},${dy}) rotate(-45)`);
  });
  let maxB = -Infinity;
  g.selectAll(".tick text").each(function () { maxB = Math.max(maxB, this.getBoundingClientRect().bottom); });
  mathLabel(axLayer, p).attr("text-anchor", "middle").attr("x", colL(c) + CW / 2).attr("y", Math.min(maxB + 60, H - 30));
});

// --- left axes ---
for (let r = 1; r < N; r++) {
  const p = params[r];
  const g = axLayer.append("g").attr("transform", `translate(${colL(0)},0)`);
  g.call(d3.axisLeft(p.y).tickValues(p.ticks).tickSize(15).tickFormat(d3.format(p.fmt)));
  styleAxis(g);
  g.selectAll(".tick text").each(function (d) {
    const el = d3.select(this);
    el.attr("x", null).attr("y", null).attr("dy", null).attr("text-anchor", "end").attr("transform", "rotate(-45)");
    const r0 = this.getBoundingClientRect();
    const tickY = p.y(d);
    const dx = (colL(0) - 32) - r0.right;
    const dy = (tickY - 12) - r0.top;
    el.attr("transform", `translate(${dx},${dy}) rotate(-45)`);
  });
  let minL = Infinity;
  g.selectAll(".tick text").each(function () { minL = Math.min(minL, this.getBoundingClientRect().left); });
  const yc = rowT(r) + CH / 2;
  mathLabel(axLayer, p).attr("text-anchor", "middle").attr("transform", `translate(${Math.max(minL - 20, 66)},${yc}) rotate(-90)`);
}

// --- legend ---
const legendColors = [styles.blue.curve, styles.green.curve, styles.red.curve];
legendLabels.forEach((s, i) => {
  svg.append("text").attr("x", 2712).attr("y", 94 + i * 77).attr("font-family", "DejaVu Serif")
    .attr("font-size", 66).attr("fill", legendColors[i]).text(s);
});
</script>
</body></html>
